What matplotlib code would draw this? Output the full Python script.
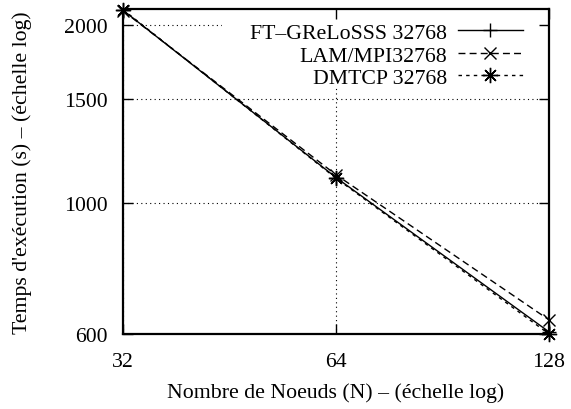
import matplotlib
matplotlib.use("Agg")
import matplotlib.pyplot as plt
from matplotlib.patches import Rectangle
from matplotlib.ticker import FixedLocator, FixedFormatter, NullLocator

nodes = [32, 64, 128]
ft_greloss = [2115, 1103, 605]
lam_mpi = [2110, 1115, 634]
dmtcp = [2120, 1100, 600]

series_labels = ["FT\u2013GReLoSSS 32768", "LAM/MPI32768", "DMTCP 32768"]
x_ticks = [32, 64, 128]
y_ticks = [600, 1000, 1500, 2000]

plt.rcParams['font.family'] = ['Liberation Serif', 'DejaVu Serif']
plt.rcParams['font.size'] = 15.7

fig = plt.figure(figsize=(5.71, 4.10), dpi=100)
ax = fig.add_axes([123/571, 1 - 335/410, (549-123)/571, (335-10)/410])
ax.set_axisbelow(False)

ax.plot(nodes, ft_greloss, color='black', lw=1.0, ls='-', marker='+', ms=10, mew=1.0,
        label=series_labels[0], clip_on=False, zorder=3)
ax.plot(nodes, lam_mpi, color='black', lw=1.0, ls=(0, (5, 3)), marker='x', ms=8, mew=1.0,
        label=series_labels[1], clip_on=False, zorder=3)
ax.plot(nodes, dmtcp, color='black', lw=1.0, ls=(0, (2.5, 3)), marker=(8, 2, 0), ms=11, mew=1.0,
        label=series_labels[2], clip_on=False, zorder=3)

ax.set_xscale('log', base=2)
ax.set_yscale('log')
ax.set_xlim(32, 128)
ax.set_ylim(600, 2125)

ax.xaxis.set_major_locator(FixedLocator(x_ticks))
ax.xaxis.set_major_formatter(FixedFormatter([str(v) for v in x_ticks]))
ax.xaxis.set_minor_locator(NullLocator())
ax.yaxis.set_major_locator(FixedLocator(y_ticks))
ax.yaxis.set_major_formatter(FixedFormatter([str(v) for v in y_ticks]))
ax.yaxis.set_minor_locator(NullLocator())

ax.tick_params(which='major', direction='in', length=7, width=1.0,
               top=True, right=True)
ax.tick_params(axis='x', pad=13)
ax.tick_params(axis='y', pad=11)

# dotted grid below a white key area (as gnuplot's opaque key)
for xv in x_ticks:
    ax.axvline(xv, color='black', ls=(0, (1, 3)), lw=0.8, zorder=1)
for yv in y_ticks:
    ax.axhline(yv, color='black', ls=(0, (1, 3)), lw=0.8, zorder=1)
ax.add_patch(Rectangle(((222-123)/426, (335-88)/325), 1 - (222-123)/426, 1 - (335-88)/325,
                       transform=ax.transAxes, facecolor='white', edgecolor='none', zorder=1.8))

for sp in ax.spines.values():
    sp.set_linewidth(1.6)

ax.set_xlabel("Nombre de Noeuds (N) \u2013 (\u00e9chelle log)", labelpad=8)
ax.set_ylabel("Temps d'ex\u00e9cution (s) \u2013 (\u00e9chelle log)", labelpad=23)

leg = ax.legend(loc='upper right', frameon=False, markerfirst=False,
                handlelength=3.0, handletextpad=0.5, labelspacing=0.1,
                borderaxespad=0.6, bbox_to_anchor=(1 - 4/426, 1 + 8/325))
for t in leg.get_texts():
    t.set_ha('right')
leg._legend_box.align = 'right'
leg.set_zorder(4)

fig.savefig("out.png", dpi=100)
